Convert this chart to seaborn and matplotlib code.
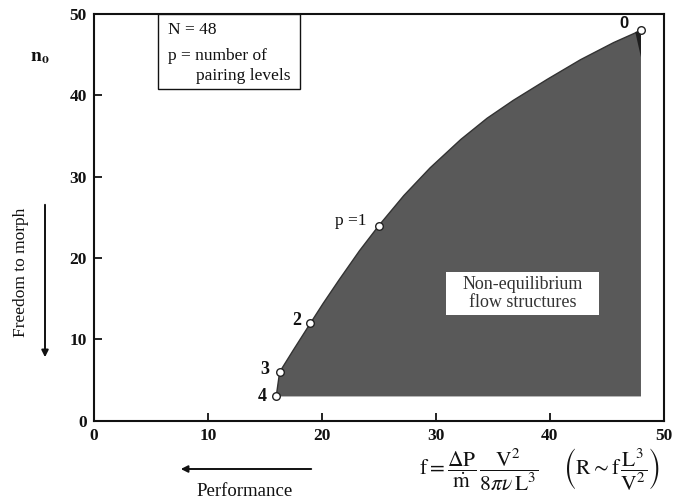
import numpy as np
import pandas as pd
import matplotlib.pyplot as plt
from matplotlib.patches import Rectangle
import seaborn as sns

# pairing-level points (p = 0 ... 4), N = 48
p_labels   = ["0", "p =1", "2", "3", "4"]
perf_f     = [48, 25, 19, 16.3, 16]
freedom_n0 = [48, 24, 12, 6, 3]

# outline of the shaded region
edge_f  = [16, 16.3, 17.5, 19, 20.1, 21.5, 23.3, 25, 27.2, 29.5, 32.2,
           34.5, 36.8, 39.8, 42.7, 45.6, 48]
edge_n0 = [3, 6, 8.7, 12, 14.4, 17.3, 20.9, 24, 27.7, 31.1, 34.6,
           37.2, 39.4, 42.0, 44.4, 46.5, 48]
floor_n0 = 3

# dark sliver next to p = 0
sliver_f  = [47.5, 48, 48]
sliver_n0 = [47.8, 48, 44.7]

x_ticks = [0, 10, 20, 30, 40, 50]
y_ticks = [0, 10, 20, 30, 40, 50]

sns.set_theme(style="white")
plt.rcParams["mathtext.fontset"] = "stix"

SERIF = ["Liberation Serif", "DejaVu Serif"]
SANS  = ["Liberation Sans", "DejaVu Sans"]
INK   = "#111111"

fig = plt.figure(figsize=(6.85, 5.04), dpi=100)
ax  = fig.add_axes([0.137, 0.165, 0.832, 0.807])

ax.fill(edge_f + [edge_f[-1]], edge_n0 + [floor_n0], color="#595959", lw=0, zorder=1)
sns.lineplot(x=edge_f, y=edge_n0, color="#333333", lw=1.0, sort=False, ax=ax, zorder=2)
ax.fill(sliver_f, sliver_n0, color="#1e1e1e", lw=0, zorder=2)

pts = pd.DataFrame({"f": perf_f, "n0": freedom_n0, "p": p_labels})
sns.scatterplot(data=pts, x="f", y="n0", s=30, color="white",
                edgecolor="#222222", linewidth=1.0, ax=ax, zorder=4)

label_offsets = {"0": (-12, 5), "p =1": (-20, 3), "2": (-10, 2),
                 "3": (-11, 2), "4": (-10, 0)}
for f, n, lab in zip(perf_f, freedom_n0, p_labels):
    dx, dy = label_offsets[lab]
    if lab.startswith("p"):
        fam, wt, fs = SERIF, "normal", 12.5
    elif lab == "0":
        fam, wt, fs = SANS, "bold", 12
    else:
        fam, wt, fs = SERIF, "bold", 13
    ax.annotate(lab, (f, n), xytext=(dx, dy), textcoords="offset points",
                ha="center", va="center", fontsize=fs, family=fam,
                fontweight=wt, color=INK)

ax.set_xlim(0, 50)
ax.set_ylim(0, 50)
ax.set_xticks(x_ticks)
ax.set_yticks(y_ticks)
ax.set_xticks(np.arange(5, 50, 10), minor=True)
ax.set_yticks(np.arange(5, 50, 10), minor=True)
ax.tick_params(which="major", direction="in", length=6, width=1.3,
               colors=INK, labelsize=12.5, pad=5)
ax.tick_params(which="minor", direction="in", length=3, width=1.1, colors=INK)
ax.tick_params(axis="y", left=True)
ax.tick_params(axis="x", bottom=True)
for lab in ax.get_xticklabels() + ax.get_yticklabels():
    lab.set_family(SERIF)
    lab.set_fontweight("bold")
for sp in ax.spines.values():
    sp.set_color(INK)
    sp.set_linewidth(1.5)
ax.set_xlabel("")
ax.set_ylabel("")

# info box, top left
ax.add_patch(Rectangle((0.1123, 0.8157), 0.2491, 0.1843, transform=ax.transAxes,
                       fc="white", ec=INK, lw=1.0, zorder=5))
ax.text(0.130, 0.961, "N = 48", transform=ax.transAxes, ha="left", va="center",
        fontsize=12.5, family=SERIF, color=INK, zorder=6)
ax.text(0.130, 0.897, "p = number of", transform=ax.transAxes, ha="left",
        va="center", fontsize=12.5, family=SERIF, color=INK, zorder=6)
ax.text(0.179, 0.848, "pairing levels", transform=ax.transAxes, ha="left",
        va="center", fontsize=12.5, family=SERIF, color=INK, zorder=6)

# label inside the shaded region
ax.add_patch(Rectangle((30.9, 13.0), 13.4, 5.3, fc="white", ec="none", zorder=5))
ax.text(37.6, 15.65, "Non-equilibrium\nflow structures", ha="center", va="center",
        fontsize=13, family=SERIF, color="#333333", linespacing=1.1, zorder=6)

# axis annotations outside the frame
fig.text(40 / 685, 1 - 56 / 504, r"$\mathbf{n_o}$", ha="center", va="center",
         fontsize=14, color=INK)
fig.text(21 / 685, 1 - 272 / 504, "Freedom to morph", rotation=90,
         ha="center", va="center", fontsize=12.5, family=SERIF, color=INK)
fig.add_artist(plt.Annotation("", xy=(45 / 685, 1 - 360 / 504),
                              xytext=(45 / 685, 1 - 202 / 504),
                              xycoords="figure fraction",
                              arrowprops=dict(arrowstyle="-|>", color=INK,
                                              lw=1.4, mutation_scale=10)))
fig.add_artist(plt.Annotation("", xy=(178 / 685, 1 - 469 / 504),
                              xytext=(314 / 685, 1 - 469 / 504),
                              xycoords="figure fraction",
                              arrowprops=dict(arrowstyle="-|>", color=INK,
                                              lw=1.4, mutation_scale=10)))
fig.text(245 / 685, 1 - 492 / 504, "Performance", ha="center", va="center",
         fontsize=13.5, family=SERIF, color=INK)
fig.text(479 / 685, 1 - 470 / 504,
         r"$\mathrm{f} = \dfrac{\Delta \mathrm{P}}{\dot{\mathrm{m}}}\,\dfrac{\mathrm{V}^2}{8\pi\nu\,\mathrm{L}^3}$",
         ha="center", va="center", fontsize=15.5, color=INK)
fig.text(612 / 685, 1 - 470 / 504,
         r"$\left(\mathrm{R} \sim \mathrm{f}\,\dfrac{\mathrm{L}^3}{\mathrm{V}^2}\right)$",
         ha="center", va="center", fontsize=15.5, color=INK)

fig.savefig("out.png", dpi=100)
plt.close(fig)
